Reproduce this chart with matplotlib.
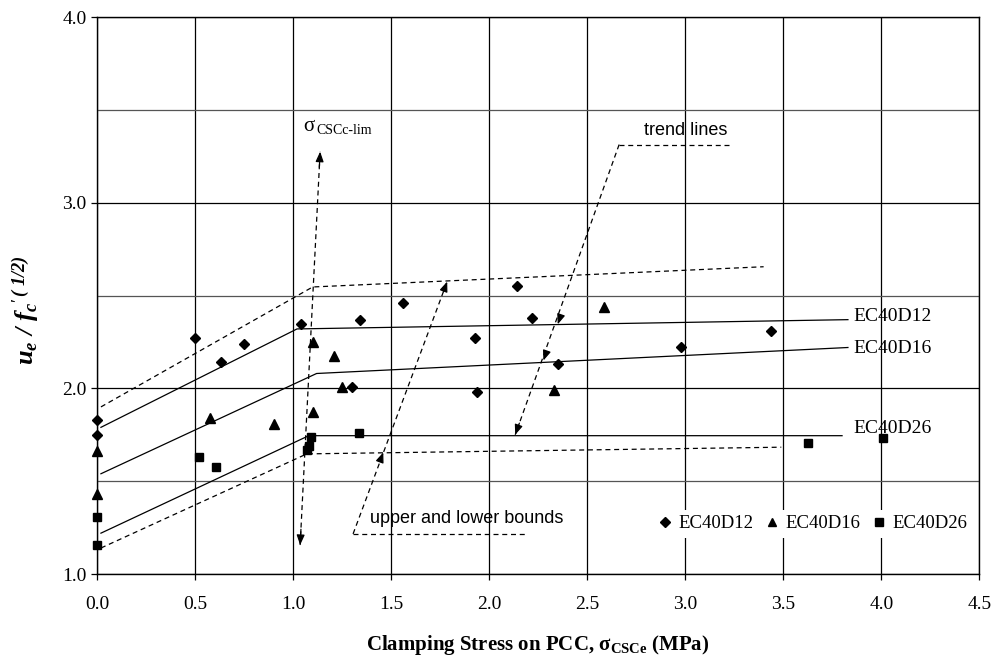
import matplotlib
matplotlib.use("Agg")
import matplotlib.pyplot as plt
from matplotlib.ticker import MultipleLocator

plt.rcParams['font.family'] = ['Liberation Serif', 'DejaVu Serif']
plt.rcParams['mathtext.fontset'] = 'custom'
plt.rcParams['mathtext.rm'] = 'Liberation Serif'
plt.rcParams['mathtext.it'] = 'Liberation Serif:italic'
plt.rcParams['mathtext.bf'] = 'Liberation Serif:bold'
plt.rcParams['mathtext.bfit'] = 'Liberation Serif:bold:italic'

# measured points
d12_x = [0.0, 0.0, 0.50, 0.63, 0.75, 1.04, 1.30, 1.34, 1.56, 1.93, 1.94, 2.14, 2.22, 2.35, 2.98, 3.44]
d12_y = [1.83, 1.75, 2.27, 2.14, 2.24, 2.345, 2.005, 2.37, 2.46, 2.27, 1.98, 2.55, 2.38, 2.13, 2.22, 2.31]

d16_x = [0.0, 0.0, 0.575, 0.905, 1.10, 1.10, 1.21, 1.25, 2.33, 2.585]
d16_y = [1.665, 1.43, 1.84, 1.81, 1.875, 2.25, 2.175, 2.005, 1.99, 2.44]

d26_x = [0.0, 0.0, 0.52, 0.605, 1.07, 1.08, 1.09, 1.335, 3.625, 4.01]
d26_y = [1.305, 1.155, 1.63, 1.575, 1.67, 1.69, 1.74, 1.76, 1.705, 1.73]

# bilinear trend lines
fit12_x = [0.02, 1.02, 3.83]
fit12_y = [1.79, 2.32, 2.37]
fit16_x = [0.02, 1.12, 3.83]
fit16_y = [1.54, 2.08, 2.22]
fit26_x = [0.02, 1.08, 3.80]
fit26_y = [1.22, 1.745, 1.745]

# upper / lower bounds
upper_x = [0.02, 1.10, 3.40]
upper_y = [1.90, 2.546, 2.655]
lower_x = [0.02, 1.07, 3.49]
lower_y = [1.14, 1.647, 1.683]

series_names = ["EC40D12", "EC40D16", "EC40D26"]
label_pos = [(3.86, 2.387), (3.86, 2.217), (3.86, 1.785)]

# annotation geometry
sigma_top = (1.138, 3.275)
sigma_bot = (1.036, 1.156)
trend_corner = (2.663, 3.313)
trend_end = 3.24
trend_tips = [(2.35, 2.345), (2.277, 2.15), (2.133, 1.75)]
bound_corner = (1.306, 1.216)
bound_end = 2.199
bound_tips = [(1.786, 2.575), (1.46, 1.655)]

fig = plt.figure(figsize=(9.93, 6.6), dpi=100)
ax = fig.add_axes([0.0977, 0.1303, 0.8885, 0.8439])

ax.set_xlim(0, 4.5)
ax.set_ylim(1.0, 4.0)
ax.xaxis.set_major_locator(MultipleLocator(0.5))
ax.yaxis.set_major_locator(MultipleLocator(1.0))
ax.yaxis.set_minor_locator(MultipleLocator(0.5))
ax.xaxis.set_major_formatter(plt.FormatStrFormatter('%.1f'))
ax.yaxis.set_major_formatter(plt.FormatStrFormatter('%.1f'))
ax.grid(True, which='major', color='black', lw=0.9)
ax.grid(True, which='minor', axis='y', color='#555555', lw=0.9)
ax.set_axisbelow(True)
ax.tick_params(axis='both', which='major', direction='out', length=4.5, width=0.9,
               labelsize=14, color='black')
ax.tick_params(axis='x', pad=11)
ax.tick_params(axis='y', pad=3)
ax.tick_params(axis='y', which='minor', length=0)
for s in ax.spines.values():
    s.set_linewidth(1.0)
    s.set_color('black')

dash = (0, (4, 3))
ax.plot(fit12_x, fit12_y, color='black', lw=0.9)
ax.plot(fit16_x, fit16_y, color='black', lw=0.9)
ax.plot(fit26_x, fit26_y, color='black', lw=0.9)
ax.plot(upper_x, upper_y, color='black', lw=0.9, ls=dash)
ax.plot(lower_x, lower_y, color='black', lw=0.9, ls=dash)

ax.plot(d12_x, d12_y, ls='none', marker='D', ms=5.5, color='black', label=series_names[0], clip_on=False, zorder=5)
ax.plot(d16_x, d16_y, ls='none', marker='^', ms=7, color='black', label=series_names[1], clip_on=False, zorder=5)
ax.plot(d26_x, d26_y, ls='none', marker='s', ms=6, color='black', label=series_names[2], clip_on=False, zorder=5)

for name, (lx, ly) in zip(series_names, label_pos):
    ax.text(lx, ly, name, fontsize=14, ha='left', va='center')


def dashed_line(a, b):
    ax.plot([a[0], b[0]], [a[1], b[1]], color='black', lw=0.9, ls=dash)


def head(start, tip):
    # short solid segment ending in a filled head, aligned with start->tip
    back = (tip[0] + 0.04 * (start[0] - tip[0]), tip[1] + 0.04 * (start[1] - tip[1]))
    ax.annotate('', xy=tip, xytext=back,
                arrowprops=dict(arrowstyle='-|>,head_length=0.5,head_width=0.2', color='black',
                                lw=0.9, mutation_scale=12, shrinkA=0, shrinkB=0))


# sigma limit double arrow
dashed_line(sigma_bot, sigma_top)
head(sigma_bot, sigma_top)
head(sigma_top, sigma_bot)
ax.text(1.05, 3.41, "σ", fontsize=15, ha='left', va='center')
ax.text(1.12, 3.39, "CSCc-lim", fontsize=10, ha='left', va='center')

# trend lines callout
ax.plot([trend_corner[0], trend_end], [trend_corner[1]] * 2, color='black', lw=0.9, ls=dash)
dashed_line(trend_corner, trend_tips[-1])
for tip in trend_tips:
    head(trend_corner, tip)
ax.text(3.0, 3.388, "trend lines", fontsize=13, family='Liberation Sans', ha='center', va='center')

# bounds callout
ax.plot([bound_corner[0], bound_end], [bound_corner[1]] * 2, color='black', lw=0.9, ls=dash)
dashed_line(bound_corner, bound_tips[0])
for tip in bound_tips:
    head(bound_corner, tip)
ax.text(1.39, 1.30, "upper and lower bounds", fontsize=13, family='Liberation Sans',
        ha='left', va='center')

leg = ax.legend(loc='center', bbox_to_anchor=(0.812, 0.09), ncol=3, frameon=True,
                fontsize=13.5, markerscale=0.85, handlelength=0.6, handletextpad=0.4,
                columnspacing=0.7, borderpad=0.3, fancybox=False)
leg.get_frame().set_facecolor('white')
leg.get_frame().set_edgecolor('none')
leg.get_frame().set_alpha(1.0)

ax.set_xlabel(r"Clamping Stress on PCC, σ$_{\mathbf{CSCe}}$ (MPa)", fontsize=15, fontweight='bold')
ax.xaxis.set_label_coords(0.5, -0.106)
ax.set_ylabel(r"$\mathbfit{u_e}$ / $\mathbfit{f_c}^{\prime\,\mathbfit{(\ 1/2)}}$", fontsize=19,
              fontweight='bold', fontstyle='italic')
ax.yaxis.set_label_coords(-0.062, 0.474)

fig.savefig("out.png", dpi=100)
